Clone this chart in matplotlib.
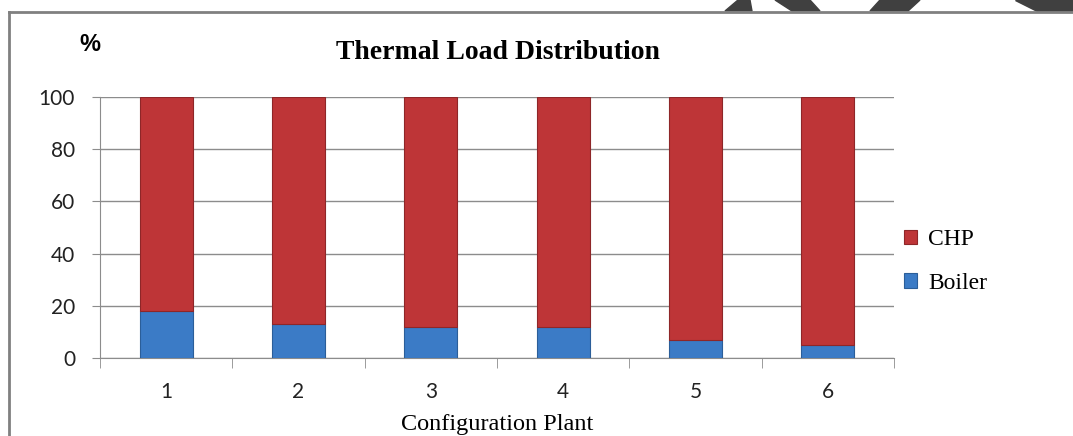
import matplotlib.pyplot as plt
from matplotlib.patches import Polygon
from matplotlib.lines import Line2D

plants = ['1', '2', '3', '4', '5', '6']
boiler = [18, 13, 12, 12, 7, 5]
chp = [82, 87, 88, 88, 93, 95]

red = '#BE3537'
blue = '#3B7BC6'

fig = plt.figure(figsize=(10.73, 4.36), dpi=100)
ax = fig.add_axes([0.0932, 0.1789, 0.7400, 0.5986])

x = range(len(plants))
ax.bar(x, boiler, width=0.4, color=blue, edgecolor='#2B5E99', linewidth=0.8,
       label='Boiler', zorder=3)
ax.bar(x, chp, width=0.4, bottom=boiler, color=red, edgecolor='#8E2628',
       linewidth=0.8, label='CHP', zorder=3)

ax.set_xlim(-0.5, len(plants) - 0.5)
ax.set_ylim(0, 100)
ax.set_yticks([0, 20, 40, 60, 80, 100])
ax.set_xticks(list(x))
ax.set_xticklabels(plants)
ax.set_xticks([i + 0.5 for i in range(-1, len(plants))], minor=True)
ax.tick_params(axis='x', which='major', length=0, pad=17)
ax.tick_params(axis='x', which='minor', length=7, color='#8C8C8C', direction='out')
ax.tick_params(axis='y', length=6, color='#8C8C8C', pad=12)
for lab in ax.get_xticklabels() + ax.get_yticklabels():
    lab.set_fontfamily('Lato')
    lab.set_fontsize(15)
    lab.set_color('#222222')

ax.grid(axis='y', color='#8C8C8C', linewidth=1, zorder=0)
for s in ['top', 'right']:
    ax.spines[s].set_visible(False)
ax.spines['left'].set_color('#8C8C8C')
ax.spines['bottom'].set_color('#8C8C8C')

ax.set_xlabel('Configuration Plant', fontfamily='Liberation Serif', fontsize=17.5, labelpad=9)
fig.text(0.4637, 0.880, 'Thermal Load Distribution', ha='center', va='center',
         fontfamily='Liberation Serif', fontweight='bold', fontsize=20)
fig.text(0.0839, 0.897, '%', ha='center', va='center', fontfamily='Liberation Sans',
         fontweight='bold', fontsize=17)

handles, labels = ax.get_legend_handles_labels()
leg = fig.legend(handles[::-1], labels[::-1], loc='center left',
                 bbox_to_anchor=(0.823, 0.400), frameon=False,
                 prop={'family': 'Liberation Serif', 'size': 17},
                 handlelength=0.55, handleheight=0.55, handletextpad=0.45,
                 labelspacing=0.95)

# outer frame
fig.add_artist(Line2D([9 / 1073, 9 / 1073], [0, 1 - 12 / 436], color='#808080', linewidth=2))
fig.add_artist(Line2D([9 / 1073, 1], [1 - 12 / 436, 1 - 12 / 436], color='#808080', linewidth=2))

# dark shapes above the frame
H = 436.0
W = 1073.0
shapes = [
    [(725, 11), (738, 0), (750, 0), (752, 11)],
    [(775, 0), (810, 0), (820, 11), (792, 11)],
    [(870, 11), (880, 0), (920, 0), (908, 11)],
    [(1015, 0), (1073, 0), (1073, 11), (1037, 11)],
]
for sh in shapes:
    pts = [(px / W, 1 - py / H) for px, py in sh]
    fig.add_artist(Polygon(pts, closed=True, color='#404040', transform=fig.transFigure))

fig.savefig('out.png', dpi=100)
